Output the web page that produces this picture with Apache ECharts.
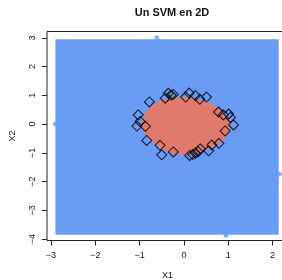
<!DOCTYPE html>
<html>
<head>
<meta charset="utf-8">
<script src="https://cdn.jsdelivr.net/npm/echarts@6/dist/echarts.min.js"></script>
<style>
  html, body { margin: 0; padding: 0; background: #fff; }
  #chart { width: 282px; height: 280px; }
</style>
</head>
<body>
<div id="chart"></div>
<script>
// grid of predictions: extent of the blue (class -1) area
const gridX = [-2.90, 2.14];
const gridY = [-3.85, 2.95];

// decision boundary of the red (class 1) region
const boundaryX = [-0.69, -0.54, -0.31, 0.07, 0.37, 0.63, 0.82, 0.97, 1.05, 1.01,
                   0.86, 0.59, 0.29, -0.01, -0.31, -0.57, -0.80, -0.93, -0.95, -0.87];
const boundaryY = [0.66, 0.81, 0.90, 0.93, 0.84, 0.70, 0.49, 0.26, 0.03, -0.32,
                   -0.61, -0.84, -1.01, -1.07, -1.01, -0.78, -0.49, -0.20, 0.08, 0.38];

// support vectors (diamonds)
const svX = [-0.78, -0.42, -0.35, -0.29, -0.24, 0.04, 0.12, 0.26, 0.36, 0.51,
             0.78, 0.89, 1.01, 1.05, 1.12, 0.93, 0.79, 0.63, 0.56, 0.37,
             0.32, 0.26, 0.20, 0.13, -0.24, -0.50, -0.54, -0.84, -1.03, -1.06,
             -0.99, -0.87];
const svY = [0.77, 0.90, 1.07, 1.01, 1.03, 0.94, 1.08, 0.99, 0.86, 0.94,
             0.42, 0.32, 0.35, 0.23, -0.03, -0.24, -0.67, -0.73, -0.93, -0.86,
             -0.96, -1.01, -1.06, -1.09, -0.97, -1.07, -0.74, -0.57, 0.32, -0.07,
             0.09, -0.08];

// other data points sitting on the edge of the grid
const ptX = [-0.61, -2.90, 2.15, 0.95];
const ptY = [3.00, 0.00, -1.74, -3.87];

const xTicks = [-3, -2, -1, 0, 1, 2];
const yTicks = [-4, -3, -2, -1, 0, 1, 2, 3];

const blue = "#6a9bf5";
const red = "#e07a6f";
const ink = "#222";
const font = "Liberation Sans";

function zip(a, b) {
    return a.map((v, i) => [v, b[i]]);
}

const chart = echarts.init(document.getElementById("chart"), null, { renderer: "canvas" });

const boundary = zip(boundaryX, boundaryY);

chart.setOption({
    animation: false,
    title: {
        text: "Un SVM en 2D",
        left: 167,
        top: 2,
        textAlign: "center",
        textStyle: { fontFamily: font, fontSize: 11, fontWeight: "bold", color: "#111" },
    },
    grid: {
        left: 47, top: 31.5, right: -6, bottom: 39.5,
        outerBoundsMode: "none",
        show: true, borderColor: ink, borderWidth: 1, backgroundColor: "transparent",
    },
    xAxis: {
        type: "value", min: -3.09, max: 2.35,
        name: "X1", nameLocation: "middle", nameGap: 31,
        nameTextStyle: { fontFamily: font, fontSize: 9, color: "#111" },
        axisLine: { show: false, onZero: false },
        splitLine: { show: false },
        axisTick: { show: true, length: 5, customValues: xTicks, lineStyle: { color: ink } },
        axisLabel: { customValues: xTicks, margin: 11, fontFamily: font, fontSize: 9, color: "#111",
                     formatter: (v) => String(v).replace("-", "\u2212") },
    },
    yAxis: {
        type: "value", min: -4.05, max: 3.22,
        name: "X2", nameLocation: "middle", nameGap: 30,
        nameTextStyle: { fontFamily: font, fontSize: 9, color: "#111" },
        axisLine: { show: false, onZero: false },
        splitLine: { show: false },
        axisTick: { show: true, length: 5, customValues: yTicks, lineStyle: { color: ink } },
        axisLabel: { customValues: yTicks, rotate: 90, margin: 10, fontFamily: font, fontSize: 9, color: "#111",
                     formatter: (v) => String(v).replace("-", "\u2212") },
    },
    series: [
        {
            type: "custom",
            silent: true,
            data: [[gridX[0], gridY[0], gridX[1], gridY[1]]],
            renderItem: (params, api) => {
                const p0 = api.coord([api.value(0), api.value(1)]);
                const p1 = api.coord([api.value(2), api.value(3)]);
                return {
                    type: "rect",
                    shape: { x: p0[0], y: p1[1], width: p1[0] - p0[0], height: p0[1] - p1[1] },
                    style: { fill: blue },
                };
            },
        },
        {
            type: "custom",
            silent: true,
            data: boundary,
            renderItem: (params, api) => {
                if (params.dataIndex !== 0) return;
                return {
                    type: "polygon",
                    shape: { points: boundary.map((p) => api.coord(p)), smooth: 0.35 },
                    style: { fill: red },
                };
            },
        },
        {
            type: "scatter",
            data: zip(ptX, ptY),
            symbol: "circle",
            symbolSize: 5,
            itemStyle: { color: blue },
        },
        {
            type: "scatter",
            data: zip(svX, svY),
            symbol: "diamond",
            symbolSize: 10,
            itemStyle: { color: "transparent", borderColor: "#000", borderWidth: 1.1 },
        },
    ],
});
</script>
</body>
</html>
